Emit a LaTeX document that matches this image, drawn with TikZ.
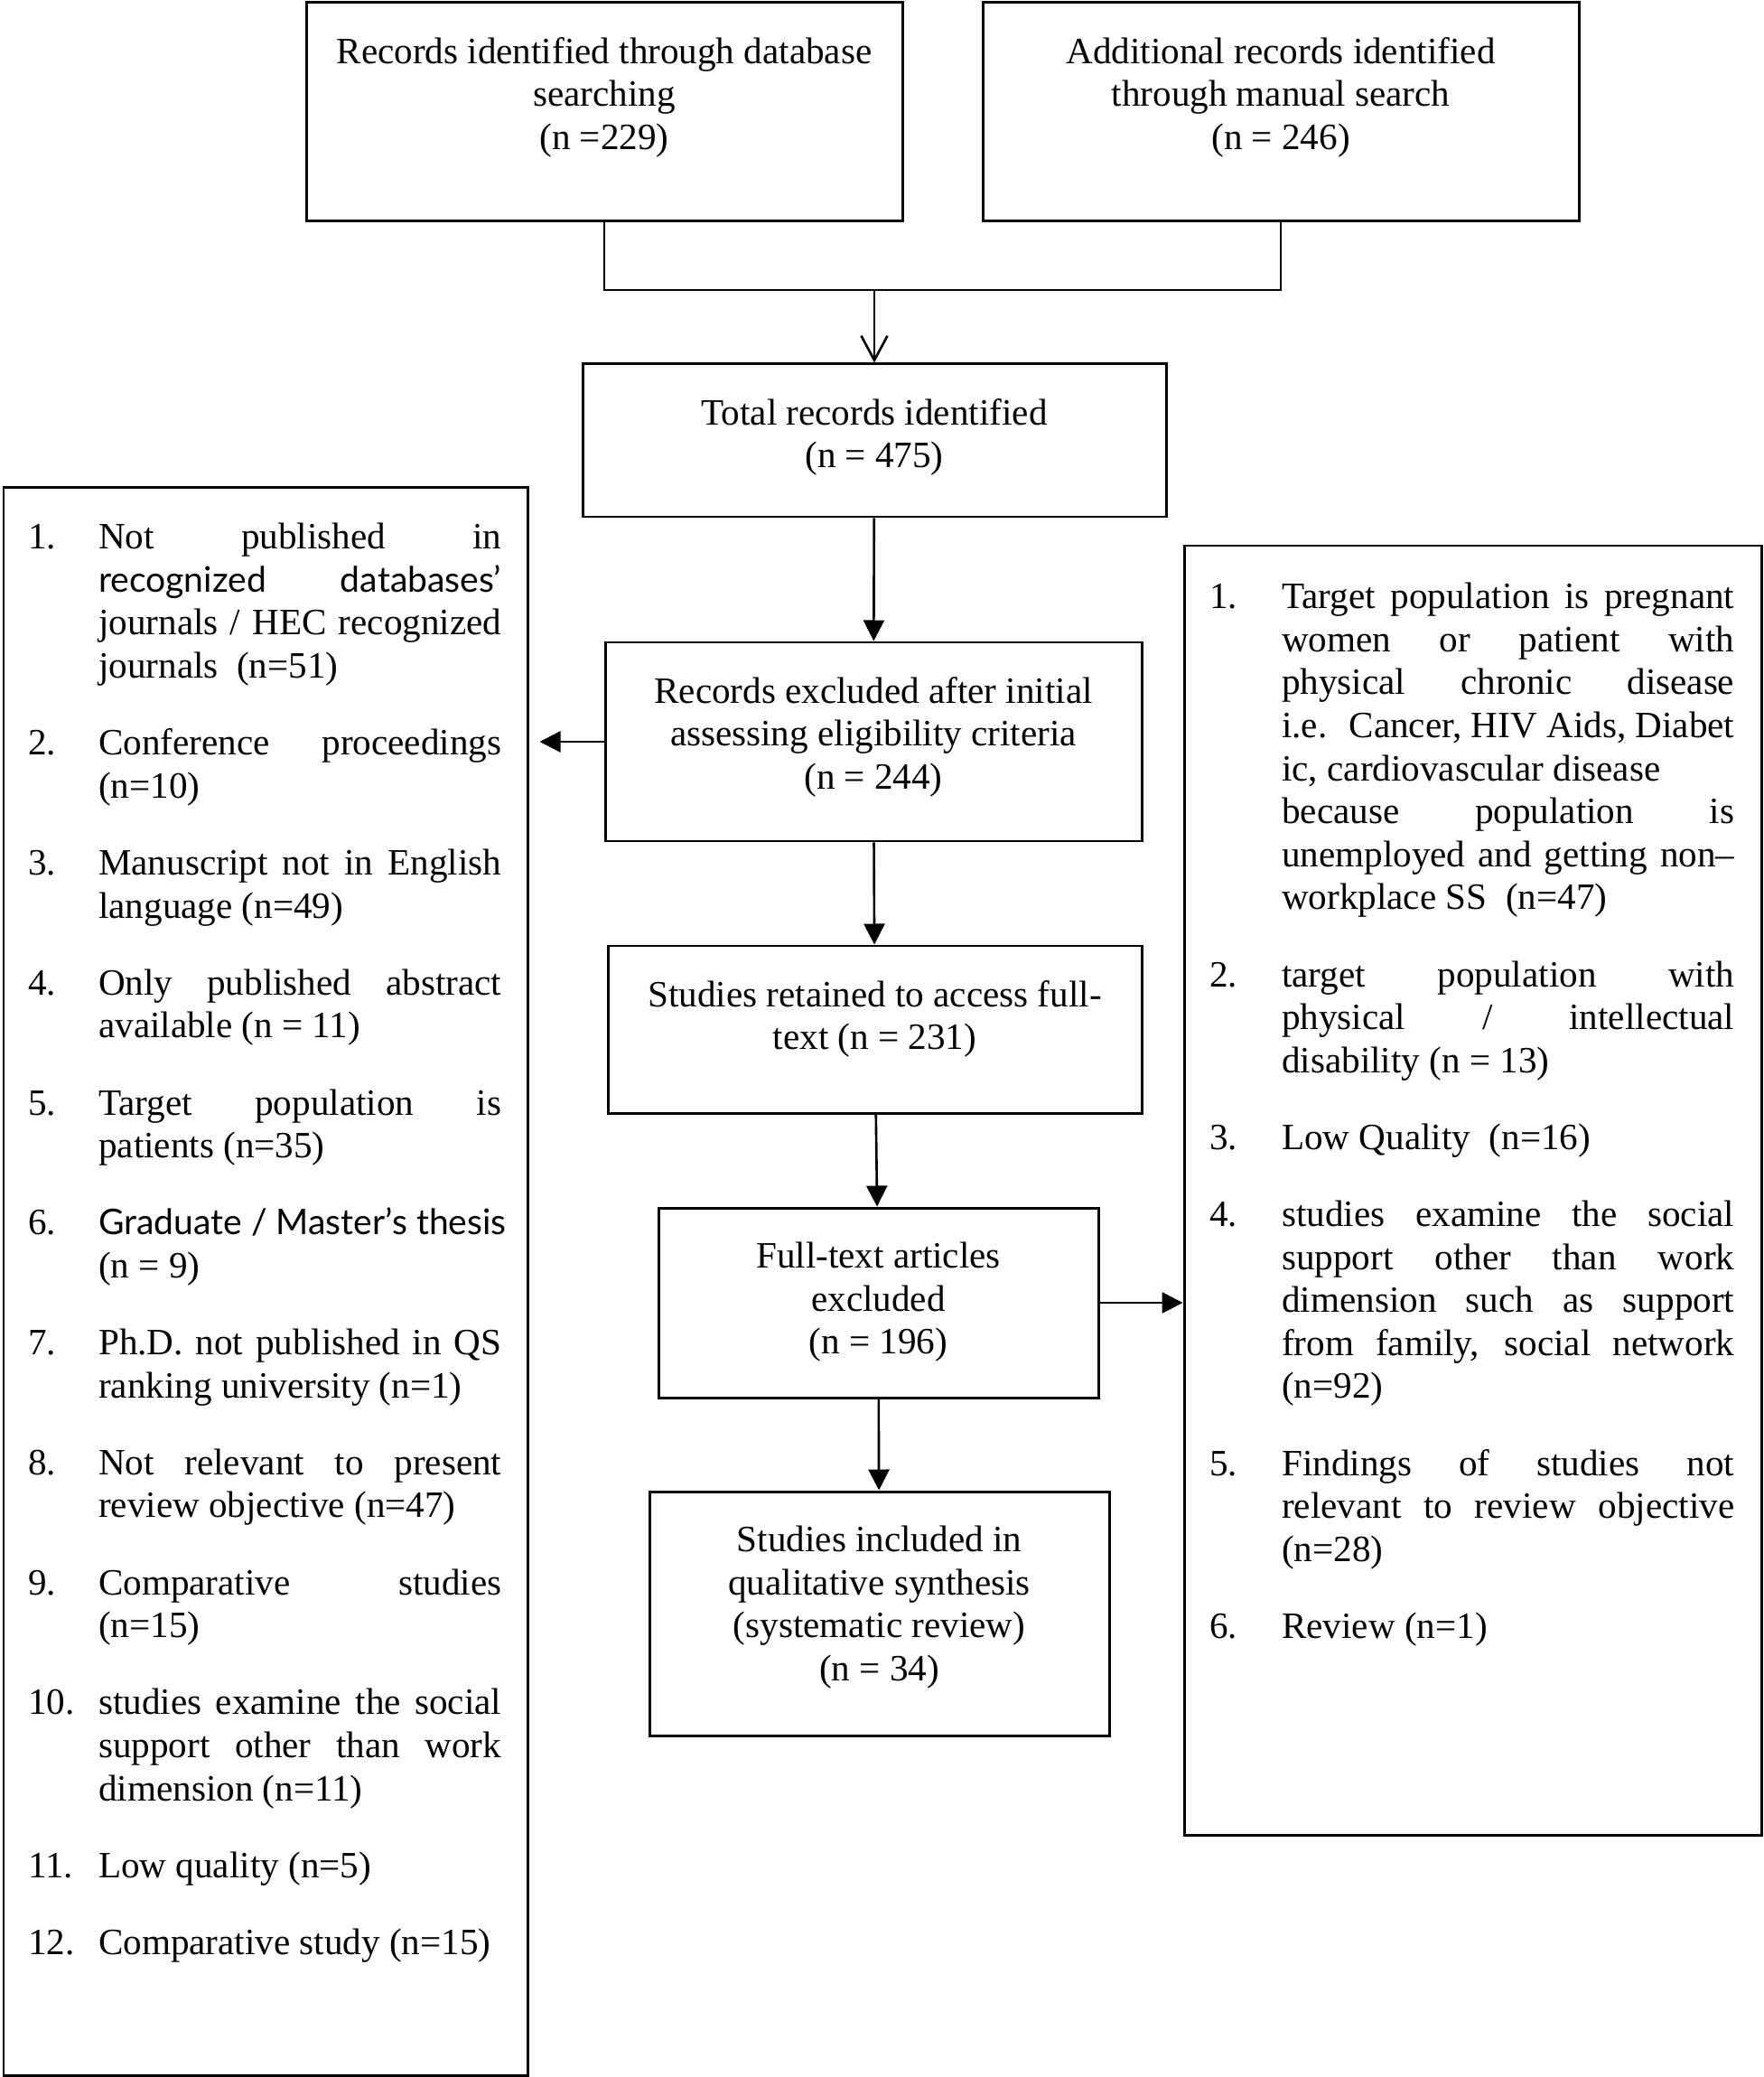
\documentclass[tikz,border=0pt]{standalone}
\usepackage{fontspec}
\setmainfont{Liberation Serif}
\newfontfamily\altsans[Scale=0.95]{Lato}
\usetikzlibrary{arrows.meta,positioning}
\newlength{\numw}
\newcommand{\litem}[2]{\hangindent=\numw\hangafter=1\noindent\makebox[\numw][l]{#1}#2\par}

\begin{document}
\begin{tikzpicture}[
    every node/.style={font=\fontsize{11.7}{13.54}\selectfont, inner sep=0pt},
    box/.style={draw, line width=0.85pt},
    arr/.style={line width=0.75pt, -{Triangle[length=0.23cm,width=0.23cm]}},
    listtext/.style={align=justify, execute at begin node={\setlength{\parskip}{10.7pt}\tolerance=10000\hbadness=10000}}
  ]
  \useasboundingbox (0,0) rectangle (19.52,-22.99);

  % identification
  \node[box, minimum width=6.6cm, minimum height=2.42cm] (db) at (6.69,-1.24) {};
  \node[below=0.39cm of db.north, align=center] (dbtext) {Records identified through database\\searching\\(n =229)};

  \node[box, minimum width=6.6cm, minimum height=2.42cm] (manual) at (14.18,-1.24) {};
  \node[below=0.39cm of manual.north, align=center] (manualtext) {Additional records identified\\through manual search\\(n = 246)};

  \node[box, minimum width=6.46cm, minimum height=1.69cm] (total) at (9.68,-4.875) {};
  \node[below=0.39cm of total.north, align=center] (totaltext) {Total records identified\\(n = 475)};

  \coordinate (join) at (9.68,-3.21);
  \draw[line width=0.75pt] (db.south) |- (join) -| (manual.south);
  \draw[line width=0.75pt, -{Straight Barb[length=0.27cm,width=0.29cm]}] (join) -- (total.north);

  % screening
  \node[box, minimum width=5.94cm, minimum height=2.2cm] (excl) at (9.67,-8.21) {};
  \node[below=0.39cm of excl.north, align=center] (excltext) {Records excluded after initial\\assessing eligibility criteria\\(n = 244)};

  \node[box, minimum width=5.91cm, minimum height=1.85cm] (retained) at (9.685,-11.395) {};
  \node[below=0.39cm of retained.north, align=center] (retainedtext) {Studies retained to access full-\\text (n = 231)};

  \node[box, minimum width=4.87cm, minimum height=2.1cm] (fulltext) at (9.725,-14.42) {};
  \node[below=0.39cm of fulltext.north, align=center] (fulltexttext) {Full-text articles\\excluded\\(n = 196)};

  \node[box, minimum width=5.09cm, minimum height=2.7cm] (included) at (9.735,-17.86) {};
  \node[below=0.39cm of included.north, align=center] (includedtext) {Studies included in\\qualitative synthesis\\(systematic review)\\(n = 34)};

  \draw[arr] (total) -- (excl);
  \draw[arr] (excl) -- (retained);
  \draw[arr] (retained) -- (fulltext);
  \draw[arr] (fulltext) -- (included);

  % exclusion reasons
  \node[box, minimum width=5.8cm, minimum height=17.57cm] (leftlist) at (2.94,-14.185) {};
  \node[listtext, text width=5.24cm, below right=0.4cm and 0.28cm of leftlist.north west] (leftitems) {%
    \setlength{\numw}{0.78cm}%
    \litem{1.}{Not published in\linebreak {\altsans recognized databases’}\linebreak journals / HEC recognized\linebreak journals~ (n=51)}
    \litem{2.}{Conference proceedings\linebreak (n=10)}
    \litem{3.}{Manuscript not in English\linebreak language (n=49)}
    \litem{4.}{Only published abstract\linebreak available (n = 11)}
    \litem{5.}{Target population is\linebreak patients (n=35)}
    \litem{6.}{\mbox{\altsans Graduate / Master’s thesis}\linebreak (n = 9)}
    \litem{7.}{Ph.D. not published in QS\linebreak ranking university (n=1)}
    \litem{8.}{Not relevant to present\linebreak review objective (n=47)}
    \litem{9.}{Comparative studies\linebreak (n=15)}
    \litem{10.}{studies examine the social\linebreak support other than work\linebreak dimension (n=11)}
    \litem{11.}{Low quality (n=5)}
    \litem{12.}{Comparative study (n=15)}
  };

  \node[box, minimum width=6.39cm, minimum height=14.27cm] (rightlist) at (16.305,-13.175) {};
  \node[listtext, text width=5.81cm, below right=0.42cm and 0.29cm of rightlist.north west] (rightitems) {%
    \setlength{\numw}{0.8cm}%
    \litem{1.}{Target population is pregnant\linebreak women or patient with\linebreak physical chronic disease\linebreak i.e.~ Cancer, HIV Aids, Diabet\linebreak ic, cardiovascular disease\newline because population is\linebreak unemployed and getting non–\linebreak workplace SS~ (n=47)}
    \litem{2.}{target population with\linebreak physical / intellectual\linebreak disability (n = 13)}
    \litem{3.}{Low Quality~ (n=16)}
    \litem{4.}{studies examine the social\linebreak support other than work\linebreak dimension such as support\linebreak from family, social network\linebreak (n=92)}
    \litem{5.}{Findings of studies not\linebreak relevant to review objective\linebreak (n=28)}
    \litem{6.}{Review (n=1)}
  };

  \draw[arr, shorten >=0.12cm] (excl.west) -- (leftlist.east |- excl.west);
  \draw[arr] (fulltext.east) -- (rightlist.west |- fulltext.east);
\end{tikzpicture}
\end{document}
